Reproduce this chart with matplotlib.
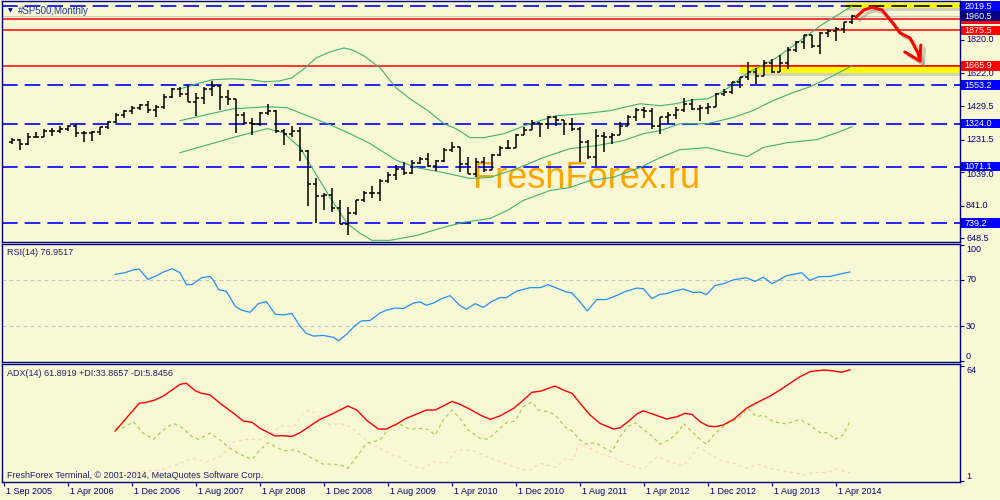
import matplotlib
matplotlib.use('Agg')
import matplotlib.pyplot as plt
import matplotlib.patheffects as pe
from matplotlib.patches import Rectangle
from matplotlib.transforms import blended_transform_factory as blend
import numpy as np

plt.rcParams['font.family'] = ['Liberation Sans', 'DejaVu Sans']

BG = '#F8F8D4'
NAVY = '#00007F'

# ---- monthly bars, index 0 = Sep 2005 ... 105 = Jun 2014
opens = [1220, 1229, 1207, 1249, 1248, 1280, 1281, 1295, 1311, 1270, 1270, 1277,
         1304, 1336, 1378, 1401, 1418, 1438, 1406, 1421, 1482, 1531, 1503, 1455,
         1474, 1527, 1549, 1481, 1468, 1379, 1331, 1323, 1386, 1400, 1280, 1267,
         1283, 1166, 969, 896, 903, 826, 735, 798, 873, 919, 919, 987,
         1021, 1057, 1036, 1096, 1115, 1074, 1104, 1169, 1187, 1089, 1031, 1102,
         1049, 1141, 1183, 1181, 1258, 1286, 1327, 1326, 1364, 1345, 1321, 1292,
         1219, 1131, 1253, 1247, 1258, 1312, 1366, 1408, 1398, 1310, 1362, 1379,
         1407, 1441, 1412, 1416, 1426, 1498, 1515, 1569, 1598, 1631, 1606, 1686,
         1633, 1682, 1757, 1806, 1848, 1783, 1859, 1872, 1884, 1924]
highs = [1243, 1233, 1270, 1276, 1295, 1297, 1310, 1318, 1326, 1284, 1280, 1306,
         1340, 1389, 1407, 1431, 1441, 1461, 1438, 1498, 1535, 1540, 1556, 1504,
         1539, 1576, 1552, 1523, 1472, 1396, 1359, 1397, 1440, 1405, 1293, 1313,
         1303, 1167, 1007, 918, 943, 876, 832, 876, 930, 957, 996, 1039,
         1080, 1101, 1113, 1130, 1150, 1113, 1181, 1220, 1188, 1131, 1120, 1129,
         1149, 1196, 1227, 1263, 1303, 1345, 1332, 1370, 1370, 1346, 1356, 1307,
         1230, 1292, 1278, 1270, 1334, 1378, 1420, 1423, 1416, 1364, 1392, 1426,
         1475, 1471, 1434, 1448, 1504, 1530, 1570, 1598, 1687, 1654, 1698, 1709,
         1730, 1776, 1813, 1849, 1850, 1867, 1883, 1897, 1924, 1968]
lows = [1205, 1168, 1201, 1246, 1245, 1253, 1268, 1280, 1245, 1219, 1224, 1261,
        1291, 1327, 1360, 1385, 1403, 1389, 1364, 1413, 1476, 1484, 1454, 1370,
        1439, 1490, 1407, 1435, 1271, 1317, 1257, 1313, 1374, 1272, 1201, 1248,
        1107, 840, 742, 815, 804, 735, 667, 784, 866, 889, 869, 978,
        992, 1020, 1029, 1086, 1071, 1044, 1101, 1157, 1040, 1028, 1011, 1040,
        1049, 1132, 1173, 1181, 1258, 1286, 1249, 1294, 1311, 1258, 1283, 1101,
        1114, 1075, 1159, 1203, 1258, 1312, 1341, 1358, 1292, 1267, 1325, 1355,
        1397, 1403, 1343, 1385, 1426, 1486, 1501, 1537, 1581, 1560, 1604, 1627,
        1633, 1647, 1746, 1767, 1770, 1738, 1834, 1815, 1862, 1915]
closes = [1229, 1207, 1249, 1248, 1280, 1281, 1295, 1311, 1270, 1270, 1277, 1304,
          1336, 1378, 1401, 1418, 1438, 1406, 1421, 1482, 1531, 1503, 1455, 1474,
          1527, 1549, 1481, 1468, 1379, 1331, 1323, 1386, 1400, 1280, 1267, 1283,
          1166, 969, 896, 903, 826, 735, 798, 873, 919, 919, 987, 1021,
          1057, 1036, 1096, 1115, 1074, 1104, 1169, 1187, 1089, 1031, 1102, 1049,
          1141, 1183, 1181, 1258, 1286, 1327, 1326, 1364, 1345, 1321, 1292, 1219,
          1131, 1253, 1247, 1258, 1312, 1366, 1408, 1398, 1310, 1362, 1379, 1407,
          1441, 1412, 1416, 1426, 1498, 1515, 1569, 1598, 1631, 1606, 1686, 1633,
          1682, 1757, 1806, 1848, 1783, 1859, 1872, 1884, 1924, 1960]

# ---- Bollinger bands (bar index, price)
bb_up_x = [21, 23.5, 25, 27.5, 30, 31.5, 33.5, 35, 36.5, 38, 39.75, 41.5, 42.5, 44, 46, 48,
           49.75, 52, 54, 55.5, 57.25, 59, 61.5, 64.75, 68, 71.5, 74.75, 78.5, 81, 83, 85,
           87, 89, 92, 95.5, 98.5, 101, 103, 105]
bb_up = [1530, 1566, 1584, 1590, 1584, 1572, 1578, 1596, 1649, 1713, 1749, 1772, 1761, 1725,
         1655, 1537, 1472, 1402, 1325, 1296, 1243, 1243, 1266, 1325, 1372, 1384, 1402, 1443,
         1431, 1443, 1466, 1472, 1519, 1625, 1713, 1814, 1902, 1961, 2019]
bb_mid_x = [21, 27.6, 31.9, 34.4, 39.75, 42.25, 44.75, 48.1, 50.6, 53.9, 57.25, 59.75, 63.1,
            66.4, 69.75, 73.1, 76.4, 78.9, 81, 83.5, 86.9, 90.1, 92.6, 95.1, 97.6, 99.75,
            101.9, 105]
bb_mid = [1343, 1413, 1425, 1419, 1319, 1266, 1208, 1108, 1066, 1037, 1002, 1008, 1060, 1125,
          1178, 1196, 1225, 1266, 1284, 1325, 1325, 1361, 1402, 1461, 1508, 1543, 1590, 1667]
bb_low_x = [21, 27.6, 31.9, 33.9, 36, 39.75, 41.9, 43.5, 45, 47.25, 50.6, 53.9, 56.4, 59.75,
            61.9, 63.9, 67.25, 69.75, 72.25, 75.1, 78.5, 81, 83.5, 86.9, 89.4, 91.9, 93.9,
            96.9, 100.6, 103.1, 105]
bb_low = [1154, 1243, 1296, 1272, 1184, 890, 737, 678, 637, 637, 666, 713, 743, 766, 813, 872,
          931, 949, 990, 1008, 1066, 1125, 1172, 1184, 1155, 1131, 1184, 1213, 1231, 1272, 1307]

# ---- RSI(14)
rsi_x = [12.9, 14.1, 15.2, 15.9, 17.0, 18.1, 18.9, 20.0, 21.0, 21.8, 22.5, 23.7, 24.75, 25.2,
         25.8, 26.8, 27.9, 28.7, 29.75, 30.8, 31.8, 32.9, 33.9, 35.0, 36.0, 36.8, 37.7, 38.9,
         40.2, 40.8, 41.8, 42.9, 43.7, 44.75, 46.0, 46.8, 47.9, 48.9, 50.2, 51.0, 51.8, 52.7,
         53.7, 54.75, 56.0, 56.8, 57.9, 58.9, 60.0, 61.0, 61.8, 63.1, 64.75, 66.0, 67.0, 68.1,
         69.3, 70.0, 71.0, 71.9, 73.1, 74.3, 75.6, 76.8, 78.1, 78.9, 80.0, 81.0, 81.8, 82.7,
         83.9, 85.2, 86.0, 86.8, 87.9, 88.9, 90.2, 91.8, 92.9, 93.9, 95.0, 96.0, 96.8, 98.7,
         99.75, 100.8, 102.25, 103.5, 104.75]
rsi = [74.8, 76.3, 78.8, 79.4, 70.5, 73.9, 76.8, 79.7, 76.3, 66.0, 66.0, 72.0, 73.1, 69.6,
       61.7, 60.2, 47.3, 43.9, 42.1, 49.6, 51.3, 40.4, 39.8, 41.0, 30.1, 23.8, 21.5, 22.1,
       20.4, 17.5, 23.0, 30.7, 34.7, 35.0, 41.5, 43.9, 45.8, 45.3, 50.1, 51.0, 48.2, 50.1,
       53.9, 56.5, 47.9, 44.7, 49.6, 46.2, 51.6, 54.8, 54.8, 60.4, 63.4, 63.4, 65.9, 63.0,
       59.6, 58.7, 51.0, 43.2, 53.1, 53.1, 56.7, 60.4, 63.0, 62.5, 53.9, 57.6, 58.2, 60.2,
       62.2, 59.1, 59.6, 57.4, 65.3, 66.7, 70.2, 71.9, 68.8, 72.5, 66.8, 70.5, 73.7, 76.3,
       69.6, 72.8, 73.1, 75.1, 76.95]

# ---- ADX(14)
adx_x = [12.9, 13.9, 15.0, 15.9, 16.8, 17.9, 18.9, 20.0, 21.0, 21.8, 22.9, 23.7, 24.75, 26.0,
         27.7, 28.9, 30.0, 31.0, 31.8, 32.9, 33.7, 35.0, 36.0, 37.25, 38.5, 39.75, 41.0, 42.0,
         43.1, 44.3, 45.8, 46.8, 48.1, 49.3, 50.6, 51.8, 52.9, 53.9, 55.0, 56.0, 57.25, 58.5,
         59.75, 61.0, 62.7, 63.7, 65.0, 66.0, 67.9, 68.9, 70.0, 71.0, 72.25, 73.5, 75.2, 76.0,
         77.0, 78.1, 78.9, 80.2, 81.8, 83.1, 84.1, 85.0, 86.0, 87.0, 87.9, 88.9, 90.2, 91.8,
         93.1, 94.75, 96.0, 97.25, 98.5, 99.75, 100.6, 101.6, 102.7, 103.7, 104.75]
adx = [28.5, 33.6, 39.1, 43.7, 44.2, 45.5, 47.6, 50.9, 54.0, 54.6, 50.5, 49.1, 48.2, 43.7,
       38.2, 34.0, 33.3, 30.0, 28.2, 25.8, 26.0, 25.6, 27.6, 31.3, 34.9, 37.3, 40.0, 42.2,
       40.0, 34.5, 29.6, 29.6, 32.4, 35.5, 37.8, 40.0, 40.0, 42.2, 44.7, 43.1, 40.4, 37.3,
       34.9, 36.8, 40.9, 44.5, 49.7, 50.2, 53.1, 50.9, 49.1, 43.7, 37.3, 32.7, 29.6, 30.3,
       33.6, 37.8, 39.6, 37.6, 35.1, 36.3, 38.2, 37.6, 33.6, 31.3, 30.9, 31.8, 34.9, 40.9,
       44.0, 47.6, 50.9, 54.6, 58.2, 60.9, 61.4, 61.8, 61.3, 60.6, 61.89]
pdi_x = [12.9, 13.9, 15.2, 16.4, 17.7, 18.9, 20.2, 21.4, 22.5, 23.3, 24.75, 26.0, 27.25, 28.5,
         30.0, 31.0, 32.0, 33.1, 33.9, 35.2, 36.4, 37.7, 38.9, 40.2, 41.0, 42.0, 43.1, 44.3,
         46.0, 47.25, 48.5, 49.75, 51.0, 52.0, 52.9, 53.9, 55.0, 56.0, 57.0, 58.5, 59.5, 61.0,
         61.8, 62.9, 63.9, 65.0, 65.8, 67.0, 67.9, 69.1, 70.0, 71.0, 71.8, 72.9, 73.9, 75.0,
         76.0, 77.0, 77.9, 78.9, 80.0, 81.0, 82.25, 83.5, 83.9, 85.0, 86.0, 86.8, 87.9, 89.1,
         90.2, 91.0, 92.0, 93.1, 93.9, 95.2, 96.8, 98.5, 99.75, 101.0, 102.0, 102.9, 103.9,
         104.75]
pdi = [30.0, 30.3, 33.6, 27.3, 24.0, 29.1, 32.7, 30.0, 25.4, 24.0, 27.3, 23.6, 19.1, 15.8,
       13.1, 18.2, 22.2, 19.6, 17.8, 18.2, 16.4, 13.3, 10.5, 10.5, 10.0, 8.2, 14.5, 21.8,
       23.6, 30.9, 32.2, 29.5, 30.0, 29.5, 26.4, 34.5, 40.0, 35.5, 29.1, 24.6, 24.0, 30.0,
       33.1, 34.0, 41.8, 44.5, 40.0, 39.1, 37.3, 30.9, 28.5, 23.6, 21.4, 22.2, 19.6, 17.2,
       25.4, 30.9, 33.1, 29.5, 25.8, 21.4, 24.0, 29.1, 32.7, 28.2, 24.0, 21.4, 27.3, 31.8,
       34.5, 36.3, 40.9, 36.3, 37.3, 33.6, 32.4, 34.9, 31.8, 27.6, 27.6, 24.0, 26.4, 33.87]
mdi_x = [12.9, 18.5, 21.0, 22.7, 24.3, 26.0, 27.7, 29.3, 31.0, 32.7, 33.9, 35.2, 36.4, 37.25,
         38.5, 39.75, 41.0, 42.25, 43.5, 44.75, 46.0, 47.25, 48.5, 50.2, 51.4, 52.7, 54.3,
         55.6, 56.8, 58.1, 59.3, 61.0, 62.7, 64.5, 66.0, 67.9, 69.3, 70.2, 70.8, 71.8, 73.5,
         75.2, 76.8, 78.9, 80.6, 82.25, 83.9, 85.8, 86.8, 88.5, 90.2, 92.0, 93.1, 94.75, 96.4,
         98.1, 99.3, 100.2, 101.8, 103.1, 104.75]
mdi = [5.5, 7.3, 10.9, 13.6, 11.8, 14.5, 22.7, 24.0, 23.6, 28.2, 31.8, 30.9, 38.2, 40.0,
       36.3, 31.8, 32.7, 30.9, 26.4, 21.8, 19.1, 16.0, 14.2, 9.1, 8.2, 11.8, 10.9, 18.2,
       18.2, 17.2, 14.5, 11.8, 9.1, 6.7, 10.9, 8.7, 13.6, 12.7, 21.8, 20.0, 16.4, 14.0,
       10.5, 7.6, 14.5, 11.8, 9.4, 19.6, 17.2, 12.7, 10.9, 8.2, 10.5, 8.2, 6.7, 5.5, 4.5,
       6.0, 5.8, 7.8, 5.85]

# ---- levels, zones, labels
blue_levels = [2019.5, 1553.2, 1324.0, 1071.1, 739.2]
red_levels = [1940.0, 1875.5, 1665.9]
bid_price = 1960.5
zone_start = [104.25, 91.0]
zone_low = [2006.0, 1622.0]
zone_high = [2035.0, 1664.0]
price_ticks = [1820.0, 1622.0, 1429.5, 1231.5, 1039.0, 841.0, 648.5]
box_prices = [2019.5, 1940.0, 1960.5, 1875.5, 1665.9, 1553.2, 1324.0, 1071.1, 739.2]
box_colors = ['#0000FF', '#FF0000', '#000080', '#FF0000', '#FF0000', '#0000FF', '#0000FF',
              '#0000FF', '#0000FF']
arrow_x = [105.5, 106.5, 107.5, 108.75, 110.1, 111.0, 112.25, 113.25, 113.5]
arrow_y = [1954, 1996, 2013, 1996, 1919, 1860, 1831, 1742, 1695]
barb_x = [111.6, 113.5, 113.6]
barb_y = [1748, 1695, 1789]
date_idx = [-1, 7, 15, 23, 31, 39, 47, 55, 63, 71, 79, 87, 95, 103]
date_lbl = ['1 Sep 2005', '1 Apr 2006', '1 Dec 2006', '1 Aug 2007', '1 Apr 2008',
            '1 Dec 2008', '1 Aug 2009', '1 Apr 2010', '1 Dec 2010', '1 Aug 2011',
            '1 Apr 2012', '1 Dec 2012', '1 Aug 2013', '1 Apr 2014']

FS = 6.5

fig = plt.figure(figsize=(10, 5), dpi=100, facecolor=BG)
ax = fig.add_axes([0.002, 0.5166, 0.958, 0.4814])
ax_rsi = fig.add_axes([0.002, 0.2766, 0.958, 0.2354])
ax_adx = fig.add_axes([0.002, 0.036, 0.958, 0.236])

for a in (ax, ax_rsi, ax_adx):
    a.set_facecolor(BG)
    a.set_xlim(-1.25, 118.5)
    for s in a.spines.values():
        s.set_color(NAVY)
        s.set_linewidth(1.0)
    a.set_xticks([])
    a.yaxis.tick_right()
    a.tick_params(axis='y', direction='out', length=3, width=0.8, color=NAVY, labelright=False)

ax.set_ylim(628.9, 2049)
ax_rsi.set_ylim(-0.6, 101.1)
ax_adx.set_ylim(0.72, 65.1)


def right_label(a, y, txt, va='center', dy=0):
    a.annotate(txt, xy=(1.0063, y), xycoords=blend(a.transAxes, a.transData),
               xytext=(0, dy), textcoords='offset points', ha='left', va=va,
               fontsize=FS, color=NAVY, annotation_clip=False)


# ---- main panel
idx = np.arange(len(closes))
ax.text(57.6, 946, 'FreshForex.ru', fontsize=26, color='#FFA500', va='baseline', ha='left', zorder=0.5)

for lv in blue_levels:
    end = zone_start[0] if lv == 2019.5 else 118.5
    ax.hlines(lv, -1.25, end, color='#0000FF', lw=1.2, linestyles=(0, (9.4, 4.2)), zorder=1)
ax.hlines(bid_price, -1.25, 118.5, color='#C8C8C8', lw=0.8, zorder=1)
for lv in red_levels:
    ax.hlines(lv, -1.25, 118.5, color='#FF0000', lw=1.1, zorder=1.1)

shadow = [pe.withSimplePatchShadow(offset=(1, -1.6), shadow_rgbFace='#909090', alpha=0.35)]
for xs, lo, hi in zip(zone_start, zone_low, zone_high):
    ax.add_patch(Rectangle((xs, lo), 118.5 - xs, hi - lo, fc='#FFFF00', ec='none', zorder=1.2,
                           path_effects=shadow))
ax.hlines(2019.5, zone_start[0], 118.5, color='black', lw=1.2, linestyles=(0, (9.4, 4.2)), zorder=1.3)
ax.hlines(1665.9, zone_start[1], 118.5, color='#FF0000', lw=1.1, zorder=1.3)

ax.plot(bb_up_x, bb_up, color='#3CB371', lw=0.8, zorder=2)
ax.plot(bb_mid_x, bb_mid, color='#3CB371', lw=0.8, zorder=2)
ax.plot(bb_low_x, bb_low, color='#3CB371', lw=0.8, zorder=2)

ax.vlines(idx, lows, highs, color='black', lw=1.1, zorder=3)
ax.hlines(opens, idx - 0.4, idx, color='black', lw=1.1, zorder=3)
ax.hlines(closes, idx, idx + 0.4, color='black', lw=1.1, zorder=3)

arrow_fx = [pe.SimpleLineShadow(offset=(2.5, -2.5), shadow_color='#707070', alpha=0.35), pe.Normal()]
ax.plot(arrow_x, arrow_y, color='#FF0000', lw=2.2, solid_capstyle='round', solid_joinstyle='round',
        path_effects=arrow_fx, zorder=4)
ax.plot(barb_x, barb_y, color='#FF0000', lw=2.2, solid_capstyle='round', solid_joinstyle='round',
        path_effects=arrow_fx, zorder=4)

ax.set_yticks(price_ticks + [2019.5])
for p in price_ticks:
    right_label(ax, p, '%.1f' % p, dy=-1.5 if p == 1039.0 else 0)

tb = blend(ax.transAxes, ax.transData)
for p, c in zip(box_prices, box_colors):
    z = 6 if p == bid_price else 5
    ax.add_patch(Rectangle((1.0015, p - 27), 0.0403, 54, transform=tb, fc=c, ec='none',
                           clip_on=False, zorder=z))
    if p != 1940.0:  # this label sits hidden under the bid box
        ax.text(1.0045, p, '%.1f' % p, transform=tb, ha='left', va='center', fontsize=FS,
                color='white', clip_on=False, zorder=z)

# ---- RSI panel
for lv in (70, 30):
    ax_rsi.axhline(lv, color='#C0C0C0', lw=0.7, linestyle=(0, (4.1, 3.1)))
ax_rsi.plot(rsi_x, rsi, color='#1E90FF', lw=0.9)
ax_rsi.set_yticks([100, 70, 30, 0])
right_label(ax_rsi, 100, '100', va='top')
right_label(ax_rsi, 70, '70')
right_label(ax_rsi, 30, '30')
right_label(ax_rsi, 0, '0', va='bottom')

# ---- ADX panel
ax_adx.plot(mdi_x, mdi, color='#F8D3BA', lw=0.8, linestyle=(0, (3, 3)))
ax_adx.plot(pdi_x, pdi, color='#9ACD32', lw=0.8, linestyle=(0, (3, 3)))
ax_adx.plot(adx_x, adx, color='#FF0000', lw=1.0)
ax_adx.set_yticks([64, 1])
right_label(ax_adx, 64, '64', va='top')
right_label(ax_adx, 1, '1', va='bottom')

ax_adx.set_xticks(date_idx)
ax_adx.tick_params(axis='x', direction='out', length=3, width=0.8, color=NAVY, labelbottom=False)
db = blend(ax_adx.transData, ax_adx.transAxes)
for i, t in zip(date_idx, date_lbl):
    ax_adx.annotate(t, xy=(i, 0), xycoords=db, xytext=(1.5, -6.8), textcoords='offset points',
                    ha='left', va='center', fontsize=FS, color=NAVY, annotation_clip=False)

# ---- captions
fig.text(0.0105, 0.979, '\u25bc', ha='center', va='center', fontsize=4.5, color=NAVY,
         family='DejaVu Sans')
fig.text(0.018, 0.979, '#SP500,Monthly', ha='left', va='center', fontsize=7, color='#1F3A9F')
fig.text(0.007, 0.495, 'RSI(14) 76.9517', ha='left', va='center', fontsize=FS, color='#20206E')
fig.text(0.007, 0.252, 'ADX(14) 61.8919 +DI:33.8657 -DI:5.8456', ha='left', va='center',
         fontsize=FS, color='#20206E')
fig.text(0.007, 0.05, 'FreshForex Terminal, \u00a9 2001-2014, MetaQuotes Software Corp.',
         ha='left', va='center', fontsize=FS, color='#20206E')

fig.savefig('out.png', dpi=100, facecolor=BG)
